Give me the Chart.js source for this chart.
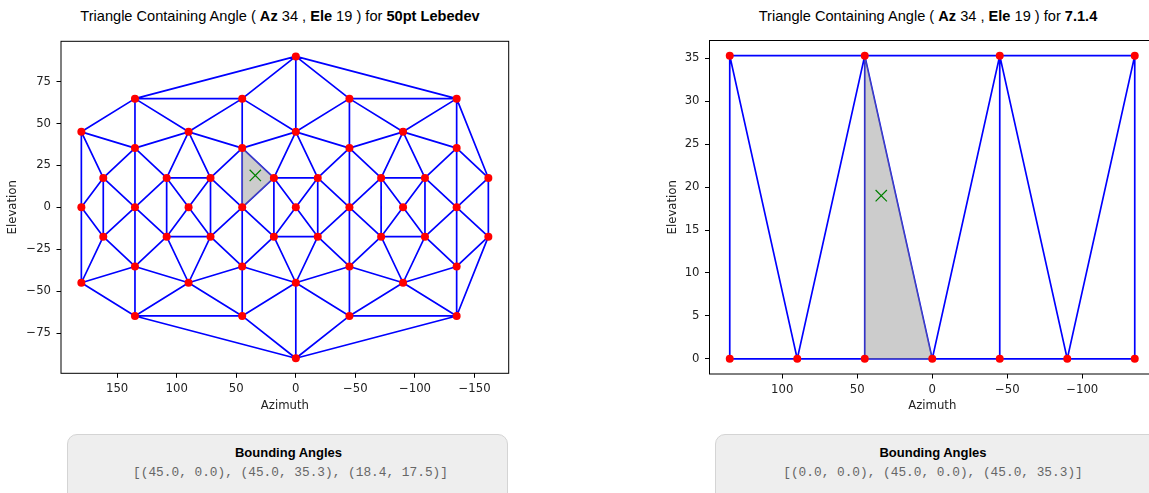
<!DOCTYPE html>
<html><head><meta charset="utf-8">
<script src="https://cdn.jsdelivr.net/npm/chart.js@4.4.1/dist/chart.umd.min.js"></script>
<style>
html,body{margin:0;padding:0;background:#fff;width:1149px;height:493px;overflow:hidden;position:relative;}
.title{position:absolute;top:6px;font:14.6px "Liberation Sans",Arial,sans-serif;color:#000;white-space:nowrap;transform:translateX(-50%);line-height:20px;}
canvas{position:absolute;top:0;}
.box{position:absolute;top:434px;height:80px;background:#eeeeee;border:1px solid #d4d4d4;border-radius:10px;box-sizing:border-box;}
.box .h{position:absolute;top:10px;left:0;font:bold 13px "Liberation Sans",Arial,sans-serif;text-align:center;line-height:16px;color:#000;}
.box .m{position:absolute;top:30px;left:0;font:12.8px "Liberation Mono","Courier New",monospace;text-align:center;line-height:16px;color:#666;white-space:pre;}
</style></head><body>
<div id="t1" class="title" style="left:280px"></div>
<div id="t2" class="title" style="left:928px"></div>
<canvas id="c1" width="574" height="430" style="left:0;width:574px;height:430px"></canvas>
<canvas id="c2" width="600" height="430" style="left:600px;width:600px;height:430px"></canvas>
<div class="box" style="left:67px;width:441px"><div class="h" style="width:441px">Bounding Angles</div><div class="m" id="b1" style="width:445px"></div></div>
<div class="box" style="left:715px;width:445px"><div class="h" style="width:434px">Bounding Angles</div><div class="m" id="b2" style="width:434px"></div></div>
<script>
// Target angle
const targetAz = 34;
const targetEle = 19;

// ---- 50pt Lebedev layout: node azimuths / elevations ----
const lebName = '50pt Lebedev';
const lebAz = [0,
  135, 45, -45, -135,
  180, 90, 0, -90,
  135, 45, -45, -135,
  161.6, 108.4, 71.6, 18.4, -18.4, -71.6, -108.4, -161.6,
  180, 135, 90, 45, 0, -45, -90, -135,
  0,
  135, 45, -45, -135,
  180, 90, 0, -90,
  135, 45, -45, -135,
  161.6, 108.4, 71.6, 18.4, -18.4, -71.6, -108.4, -161.6];
const lebEle = [90,
  64.8, 64.8, 64.8, 64.8,
  45, 45, 45, 45,
  35.3, 35.3, 35.3, 35.3,
  17.5, 17.5, 17.5, 17.5, 17.5, 17.5, 17.5, 17.5,
  0, 0, 0, 0, 0, 0, 0, 0,
  -90,
  -64.8, -64.8, -64.8, -64.8,
  -45, -45, -45, -45,
  -35.3, -35.3, -35.3, -35.3,
  -17.5, -17.5, -17.5, -17.5, -17.5, -17.5, -17.5, -17.5];
// Triangulation edges (node index pairs)
const lebEdges = [
  [0,1],[0,2],[0,7],[0,3],[0,4],[1,2],[3,4],[2,7],[7,3],
  [5,1],[1,9],[1,6],[2,6],[2,10],[3,11],[3,8],[4,8],[4,12],[4,20],
  [5,9],[5,21],[5,13],[6,9],[6,10],[6,14],[6,15],[7,10],[7,11],[7,16],[7,17],
  [8,11],[8,12],[8,18],[8,19],[12,20],[9,13],[9,14],[9,22],
  [10,15],[10,16],[10,24],[11,17],[11,18],[11,26],[12,19],[12,28],
  [13,21],[13,22],[13,42],[14,15],[14,22],[14,23],[14,43],[15,23],[15,24],[15,44],
  [16,17],[16,24],[16,25],[16,45],[17,25],[17,26],[17,46],
  [18,19],[18,26],[18,27],[18,47],[19,27],[19,28],[19,48],[20,28],[20,49],
  [29,30],[29,31],[29,36],[29,32],[29,33],[30,31],[32,33],[31,36],[36,32],
  [34,30],[30,38],[30,35],[31,35],[31,39],[32,40],[32,37],[33,37],[33,41],[33,49],
  [34,38],[34,21],[34,42],[35,38],[35,39],[35,43],[35,44],[36,39],[36,40],[36,45],[36,46],
  [37,40],[37,41],[37,47],[37,48],[41,49],[38,42],[38,43],[38,22],
  [39,44],[39,45],[39,24],[40,46],[40,47],[40,26],[41,48],[41,28],
  [42,21],[42,22],[43,44],[43,22],[43,23],[44,23],[44,24],
  [45,46],[45,24],[45,25],[46,25],[46,26],[47,48],[47,26],[47,27],[48,27],[48,28],[49,28]];
const lebTriangle = [24, 10, 16];
const lebXTicks = [150, 100, 50, 0, -50, -100, -150];
const lebYTicks = [-75, -50, -25, 0, 25, 50, 75];

// ---- 7.1.4 layout ----
const spkName = '7.1.4';
const spkAz  = [135, 45, -45, -135, 135, 90, 45, 0, -45, -90, -135];
const spkEle = [35.3, 35.3, 35.3, 35.3, 0, 0, 0, 0, 0, 0, 0];
const spkEdges = [[0,1],[1,2],[2,3],[4,5],[5,6],[6,7],[7,8],[8,9],[9,10],
  [0,4],[0,5],[1,5],[1,6],[1,7],[2,7],[2,8],[2,9],[3,9],[3,10]];
const spkTriangle = [7, 6, 1];
const spkXTicks = [100, 50, 0, -50, -100];
const spkYTicks = [0, 5, 10, 15, 20, 25, 30, 35];

function fmt(v){ return v < 0 ? '\u2212' + Math.abs(v) : String(v); }
function titleHTML(name){
  return 'Triangle Containing Angle ( <b>Az</b> ' + targetAz + ' , <b>Ele</b> ' + targetEle + ' ) for <b>' + name + '</b>';
}
function boundText(az, el, tri){
  return '[' + tri.map(i => '(' + az[i].toFixed(1) + ', ' + el[i].toFixed(1) + ')').join(', ') + ']';
}
function edgeData(az, el, edges){
  const d = [];
  edges.forEach(([a,b]) => { d.push({x:az[a], y:el[a]}, {x:az[b], y:el[b]}, {x:NaN, y:NaN}); });
  return d;
}
function range(arr){ const mn = Math.min(...arr), mx = Math.max(...arr), m = (mx - mn) * 0.05; return [mn - m, mx + m]; }

const framePlugin = {
  id: 'frame',
  afterDatasetsDraw(chart){
    const {ctx, chartArea: a} = chart;
    ctx.save(); ctx.strokeStyle = '#000'; ctx.lineWidth = 1;
    ctx.strokeRect(a.left, a.top, a.right - a.left, a.bottom - a.top);
    ctx.restore();
  }
};

const FONT = {family: 'DejaVu Sans', size: 11.7};

function makeChart(id, az, el, edges, tri, xTicks, yTicks, lay){
  const xr = range(az), yr = range(el);
  return new Chart(document.getElementById(id), {
    type: 'line',
    data: { datasets: [
      { data: edgeData(az, el, edges), borderColor: '#0000ff', borderWidth: 1.7, pointRadius: 0, fill: false, order: 4, spanGaps: false },
      { data: tri.concat([tri[0]]).map(i => ({x: az[i], y: el[i]})), borderColor: 'rgba(128,128,128,0.4)', backgroundColor: 'rgba(128,128,128,0.4)', borderWidth: 1.2, pointRadius: 0, fill: 'shape', order: 3 },
      { data: az.map((a, i) => ({x: a, y: el[i]})), showLine: false, pointRadius: 4, pointBackgroundColor: '#ff0000', pointBorderColor: '#ff0000', pointBorderWidth: 0, order: 2 },
      { data: [{x: targetAz, y: targetEle}], showLine: false, pointStyle: 'crossRot', pointRadius: 8, pointBorderColor: '#008000', pointBackgroundColor: '#008000', pointBorderWidth: 1.2, order: 1 }
    ]},
    options: {
      responsive: false, animation: false, events: [],
      layout: { padding: lay.pad },
      plugins: { legend: {display: false}, tooltip: {enabled: false}, title: {display: false} },
      scales: {
        x: {
          type: 'linear', reverse: true, min: xr[0], max: xr[1],
          afterBuildTicks: s => { s.ticks = xTicks.map(v => ({value: v})); },
          afterFit: s => { s.height = lay.xh; },
          grid: {display: true, drawOnChartArea: false, drawTicks: true, tickLength: 4.5, tickColor: '#000', tickWidth: 1},
          border: {display: false},
          ticks: {font: FONT, color: '#222', padding: 4.2, maxRotation: 0, autoSkip: false, callback: v => fmt(v)},
          title: {display: true, text: 'Azimuth', font: FONT, color: '#222', padding: {top: 0, bottom: 17.4}}
        },
        y: {
          type: 'linear', min: yr[0], max: yr[1],
          afterBuildTicks: s => { s.ticks = yTicks.map(v => ({value: v})); },
          afterFit: s => { s.width = lay.yw; },
          grid: {display: true, drawOnChartArea: false, drawTicks: true, tickLength: 4.5, tickColor: '#000', tickWidth: 1},
          border: {display: false},
          ticks: {font: FONT, color: '#222', padding: 5.5, autoSkip: false, callback: v => fmt(v)},
          title: {display: true, text: 'Elevation', font: FONT, color: '#222', padding: {top: 6.4, bottom: 0}}
        }
      }
    },
    plugins: [framePlugin]
  });
}

document.getElementById('t1').innerHTML = titleHTML(lebName);
document.getElementById('t2').innerHTML = titleHTML(spkName);
document.getElementById('b1').textContent = boundText(lebAz, lebEle, lebTriangle);
document.getElementById('b2').textContent = boundText(spkAz, spkEle, spkTriangle);

makeChart('c1', lebAz, lebEle, lebEdges, lebTriangle, lebXTicks, lebYTicks,
  {pad: {top: 41.3, right: 65.3, bottom: 0, left: 0}, yw: 61, xh: 56.7});
makeChart('c2', spkAz, spkEle, spkEdges, spkTriangle, spkXTicks, spkYTicks,
  {pad: {top: 40.5, right: 45, bottom: 0, left: 59.7}, yw: 49.8, xh: 56});
</script>
</body></html>
